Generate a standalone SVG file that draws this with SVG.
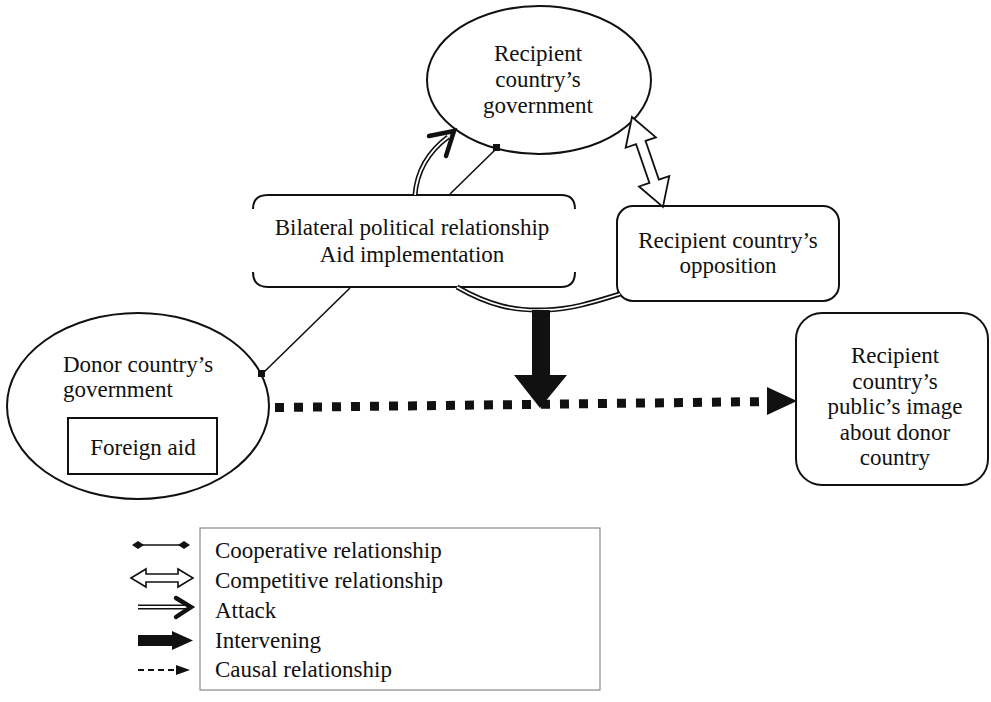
<svg xmlns="http://www.w3.org/2000/svg" width="991" height="702" viewBox="0 0 991 702">
<style>
text{font-family:"Liberation Serif","Times New Roman",serif;font-size:23px;fill:#111;text-anchor:middle}
.lg{text-anchor:start}
.sh{fill:#fff;stroke:#111;stroke-width:2}
.ln{fill:none;stroke:#111;stroke-width:1.6}
.dbl{fill:none;stroke:#111;stroke-width:5}
.dblw{fill:none;stroke:#fff;stroke-width:1.8}
.chev{fill:none;stroke:#111;stroke-width:4.5;stroke-linecap:round;stroke-linejoin:miter}
</style>
<rect width="991" height="702" fill="#fff"/>
<g id="recipient-gov">
<ellipse class="sh" cx="539" cy="80" rx="112" ry="74"/>
<text x="538" y="61">Recipient</text>
<text x="538" y="87">country’s</text>
<text x="538" y="113">government</text>
</g>
<g id="bilateral">
<path class="ln" style="stroke-width:2" d="M253,209 Q253,195 268,195 L561,195 Q575,195 575,209"/>
<path class="ln" style="stroke-width:2" d="M253,272 Q253,287 268,287 L561,287 Q575,287 575,272"/>
<text x="412" y="235">Bilateral political relationship</text>
<text x="412" y="262">Aid implementation</text>
</g>
<g id="opposition">
<rect class="sh" x="617" y="206" width="222" height="95" rx="16"/>
<text x="728" y="248">Recipient country’s</text>
<text x="728" y="273">opposition</text>
</g>
<g id="donor-gov">
<ellipse class="sh" cx="138" cy="406" rx="131" ry="93"/>
<text class="lg" x="63" y="372">Donor country’s</text>
<text class="lg" x="63" y="397">government</text>
<rect class="sh" x="68" y="418" width="149" height="56"/>
<text x="143" y="455">Foreign aid</text>
</g>
<g id="public-image">
<rect class="sh" x="796" y="313" width="192" height="172" rx="26"/>
<text x="895" y="363">Recipient</text>
<text x="895" y="389">country’s</text>
<text x="895" y="414">public’s image</text>
<text x="895" y="440">about donor</text>
<text x="895" y="465">country</text>
</g>
<g id="connectors">
<line class="ln" x1="450" y1="194" x2="497" y2="148"/>
<rect x="493" y="144" width="7" height="7" fill="#111"/>
<line class="ln" x1="350" y1="288" x2="262" y2="374"/>
<rect x="258" y="370" width="7" height="7" fill="#111"/>
<path class="dbl" d="M415,195 C417,170 428,152 448,137"/>
<path class="dblw" d="M415,195 C417,170 428,152 448,137"/>
<path class="chev" d="M429,136 L454,131 L446,156"/>
<path class="dbl" d="M457,287 C490,306 515,311 545,310 C575,309 600,300 620,294"/>
<path class="dblw" d="M457,287 C490,306 515,311 545,310 C575,309 600,300 620,294"/>
<rect x="532" y="310" width="18" height="66" fill="#111"/>
<polygon points="514,375 567,375 540,408" fill="#111"/>
<path d="M275,407.5 L770,401.5" fill="none" stroke="#111" stroke-width="9" stroke-dasharray="9 10"/>
<polygon points="767,387 797,401 767,415" fill="#111"/>
<polygon class="sh" style="stroke-width:1.8" transform="translate(632,117) rotate(71)" points="0,0 27,-16 27,-5 68,-5 68,-16 95,0 68,16 68,5 27,5 27,16"/>
</g>
<g id="legend">
<rect x="200" y="528" width="400" height="162" fill="#fff" stroke="#888" stroke-width="1.2"/>
<line class="ln" x1="138" y1="545" x2="184" y2="545"/>
<polygon points="132,545 138,541 144,545 138,549" fill="#111"/>
<polygon points="178,545 184,541 190,545 184,549" fill="#111"/>
<polygon class="sh" style="stroke-width:1.6" points="131,578 146,569 146,574 178,574 178,569 193,578 178,587 178,582 146,582 146,587"/>
<line class="dbl" x1="138" y1="607" x2="188" y2="607"/>
<line class="dblw" x1="136" y1="607" x2="190" y2="607"/>
<path class="chev" d="M176,598 L191,607 L176,617"/>
<rect x="138" y="635" width="36" height="11" fill="#111"/>
<polygon points="172,631 193,640.5 172,650" fill="#111"/>
<path d="M138,670 L178,670" stroke="#111" stroke-width="2" stroke-dasharray="6 4"/>
<polygon points="176,665 190,670 176,675" fill="#111"/>
<text class="lg" x="215" y="558">Cooperative relationship</text>
<text class="lg" x="215" y="588">Competitive relationship</text>
<text class="lg" x="215" y="618">Attack</text>
<text class="lg" x="215" y="648">Intervening</text>
<text class="lg" x="215" y="677">Causal relationship</text>
</g>
</svg>
